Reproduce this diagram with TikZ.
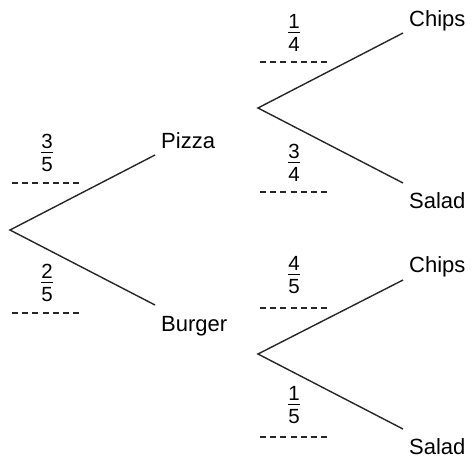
\documentclass[tikz,border=0pt]{standalone}
\usepackage{fontspec}
\setmainfont{Liberation Sans}
\begin{document}
\begin{tikzpicture}[x=1pt,y=-1pt,
  lbl/.style={font=\fontsize{22}{24}\selectfont, inner sep=0pt, anchor=base west},
  dig/.style={font=\fontsize{20.5}{24}\selectfont, inner sep=0pt},
  branch/.style={line width=1.4pt, black!85},
  blank/.style={line width=1.4pt, black!85, dash pattern=on 6pt off 4.2pt},
  pics/frac/.style n args={2}{code={
    \node[dig, anchor=base] (-n) at (0,-4) {#1};
    \node[dig, anchor=north] (-d) at (0,5.5) {#2};
    \draw[line width=0.9pt] (-6,0) -- (6,0);
  }}]
\useasboundingbox (0,0) rectangle (471,461);
% stage 1
\coordinate (r) at (10,230);
\coordinate (pe) at (155,155);
\coordinate (be) at (155,305);
\draw[branch] (pe) -- (r) -- (be);
\node[lbl] (pizza) at (161,148.5) {Pizza};
\node[lbl] (burger) at (161,331) {Burger};
\pic (f35) at (47,152) {frac={3}{5}};
\pic (f25) at (47,282) {frac={2}{5}};
\coordinate (d1a) at (12,183); \coordinate (d1b) at (80,183);
\coordinate (d2a) at (12,313); \coordinate (d2b) at (80,313);
\draw[blank] (d1a) -- (d1b);
\draw[blank] (d2a) -- (d2b);
% stage 2 upper
\coordinate (r2) at (258,108);
\coordinate (ce1) at (403,33);
\coordinate (se1) at (403,183);
\draw[branch] (ce1) -- (r2) -- (se1);
\node[lbl] (chips1) at (409,26.5) {Chips};
\node[lbl] (salad1) at (409,208) {Salad};
\pic (f14) at (294,32) {frac={1}{4}};
\pic (f34) at (294,162) {frac={3}{4}};
\coordinate (d3a) at (260,62); \coordinate (d3b) at (330,62);
\coordinate (d4a) at (260,192); \coordinate (d4b) at (330,192);
\draw[blank] (d3a) -- (d3b);
\draw[blank] (d4a) -- (d4b);
% stage 2 lower
\coordinate (r3) at (258,354);
\coordinate (ce2) at (403,280);
\coordinate (se2) at (403,429);
\draw[branch] (ce2) -- (r3) -- (se2);
\node[lbl] (chips2) at (409,272) {Chips};
\node[lbl] (salad2) at (409,454) {Salad};
\pic (f45) at (294,274) {frac={4}{5}};
\pic (f15) at (294,404) {frac={1}{5}};
\coordinate (d5a) at (260,308); \coordinate (d5b) at (330,308);
\coordinate (d6a) at (260,437); \coordinate (d6b) at (330,437);
\draw[blank] (d5a) -- (d5b);
\draw[blank] (d6a) -- (d6b);
\end{tikzpicture}
\end{document}
